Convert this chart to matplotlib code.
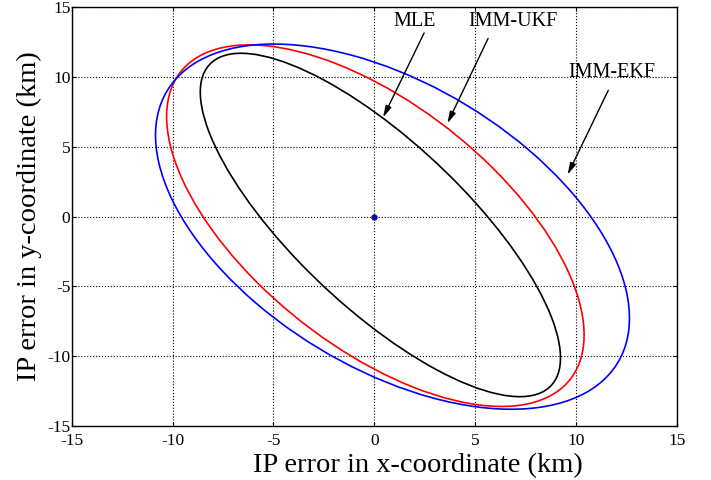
import numpy as np
from matplotlib import pyplot as plt
from matplotlib.patches import Ellipse

plt.rcParams['font.family'] = ['Liberation Serif', 'DejaVu Serif']
plt.rcParams['axes.unicode_minus'] = False

#Datos de las elipses de error (centro, semiejes en x,y y termino cruzado)
nombres = ["MLE", "IMM-UKF", "IMM-EKF"]
colores = ["black", "red", "blue"]
cx = [0.3, 0.05, 0.9]
cy = [-0.6, -0.65, -0.72]
sx = [8.93, 10.35, 11.75]
sy = [12.3, 12.95, 13.08]
sxy = [-85.0, -81.0, -77.0]

#Posiciones de las etiquetas y flechas
txt_x = [2.0, 6.88, 11.76]
txt_y = [14.0, 14.0, 10.31]
cola_x = [2.47, 5.64, 11.6]
cola_y = [13.16, 12.76, 9.05]
punta_x = [0.43, 3.62, 9.58]
punta_y = [7.09, 6.67, 3.0]

ticks = [-15, -10, -5, 0, 5, 10, 15]

fig = plt.figure(figsize=(7.11, 4.8), dpi=100)
ax = fig.add_axes([0.101, 0.1125, 0.851, 0.8725])

for i in range(len(nombres)):
    M = np.array([[sx[i]**2, sxy[i]], [sxy[i], sy[i]**2]])
    val, vec = np.linalg.eigh(M)
    ang = np.degrees(np.arctan2(vec[1, 1], vec[0, 1]))
    e = Ellipse((cx[i], cy[i]), 2*np.sqrt(val[1]), 2*np.sqrt(val[0]), angle=ang,
                fill=False, edgecolor=colores[i], lw=1.2, zorder=3)
    ax.add_patch(e)

ax.plot([0], [0], '.', color='#0000aa', markersize=7, zorder=4)

for i in range(len(nombres)):
    ax.text(txt_x[i], txt_y[i], nombres[i], ha='center', va='center', fontsize=14.5)
    ax.annotate("", xy=(punta_x[i], punta_y[i]), xytext=(cola_x[i], cola_y[i]),
                arrowprops=dict(arrowstyle='-|>,head_length=0.7,head_width=0.18',
                                color='black', lw=1.0, shrinkA=0, shrinkB=0))

ax.set_xlim(-15, 15)
ax.set_ylim(-15, 15)
ax.set_xticks(ticks)
ax.set_yticks(ticks)
ax.grid(True, linestyle=':', color='black', lw=0.8)
ax.tick_params(direction='in', top=True, right=True, labelsize=12.5, length=3)
ax.tick_params(axis='y', pad=1)
ax.tick_params(axis='x', pad=5)
for s in ax.spines.values():
    s.set_linewidth(1.0)
ax.set_xlabel("IP error in x-coordinate (km)", fontsize=20.5)
ax.set_ylabel("IP error in y-coordinate (km)", fontsize=20.5, labelpad=4)
ax.xaxis.set_label_coords(0.572, -0.065)

plt.savefig("out.png", dpi=100)
